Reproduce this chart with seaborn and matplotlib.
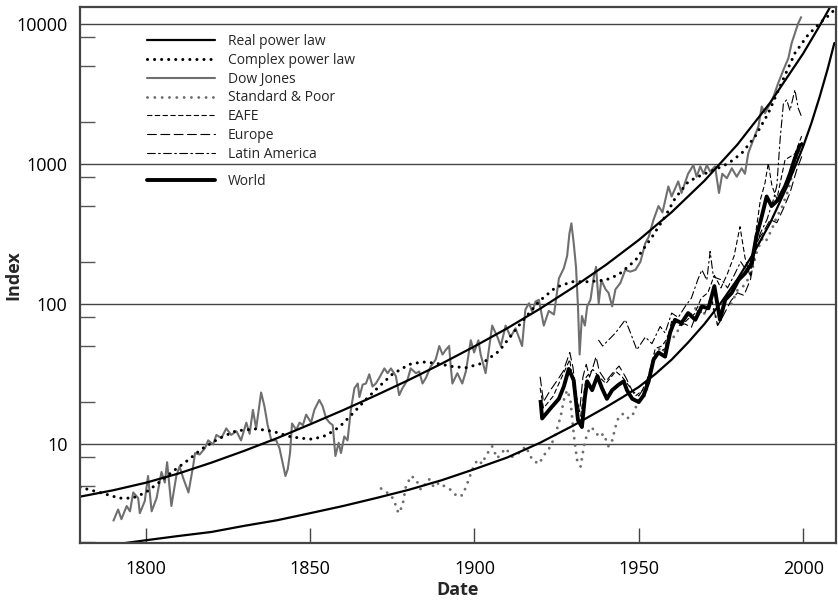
import numpy as np
import pandas as pd
import seaborn as sns
import matplotlib.pyplot as plt
from matplotlib.lines import Line2D
from matplotlib.ticker import FixedLocator, NullFormatter

# ---- data ----
real_upper_years = [1780, 1790, 1800, 1810, 1820, 1830, 1840, 1850, 1860, 1870, 1880, 1890,
                    1900, 1910, 1920, 1930, 1940, 1950, 1960, 1970, 1980, 1990, 2000, 2005, 2008.3]
real_upper_vals = [4.2, 4.66, 5.28, 6.15, 7.35, 8.93, 11.0, 13.8, 17.4, 22.2, 28.6, 37.4,
                   49.7, 67, 92.5, 131, 190, 286, 452, 759, 1374, 2742, 6138, 9680, 13300]

real_lower_years = [1793.8, 1800, 1810, 1820, 1830, 1840, 1850, 1860, 1870, 1880, 1890, 1900,
                    1910, 1920, 1930, 1940, 1945, 1950, 1955, 1960, 1965, 1970, 1975, 1980,
                    1985, 1990, 1995, 2000, 2002.5, 2005, 2007.5, 2009.5]
real_lower_vals = [1.96, 2.05, 2.2, 2.35, 2.6, 2.85, 3.2, 3.6, 4.1, 4.7, 5.5, 6.6,
                   8.0, 10.2, 13.5, 18.3, 21.5, 25.5, 31.5, 40, 53, 72, 102, 150,
                   232, 380, 680, 1330, 1950, 3000, 4800, 7300]

complex_years = [1780, 1786, 1792, 1796, 1800, 1804, 1808, 1813, 1817, 1822.5, 1827.5, 1833.6,
                 1838.7, 1843.7, 1847, 1850.8, 1854.9, 1858.9, 1863, 1867, 1871, 1875, 1880.2,
                 1884.2, 1888.3, 1893.3, 1897.4, 1902.4, 1907.5, 1913.5, 1919.6, 1924.7, 1929.7,
                 1934.8, 1939.9, 1943.9, 1949, 1954, 1958, 1961.1, 1965.1, 1969.2, 1973.2, 1977.3,
                 1981.3, 1985.4, 1989.4, 1993.4, 1997.5, 2001.5, 2005.6, 2008.6, 2009.5]
complex_vals = [4.9, 4.5, 4.1, 4.1, 4.5, 5.3, 6.3, 7.7, 9.2, 11.0, 12.4, 12.8,
                12.3, 11.3, 11.0, 10.8, 11.5, 13.2, 16.5, 20.8, 25.7, 31.4, 37,
                38.5, 37.7, 35.7, 35, 37.7, 46, 70, 104, 131, 144,
                144, 148, 162, 205, 300, 420, 570, 748, 835, 910, 1010,
                1190, 1570, 2300, 3770, 6180, 8350, 10400, 11900, 12700]

dow_years = [1790.1, 1791.6, 1792.6, 1794.2, 1795.2, 1796.2, 1797.7, 1798.2, 1799.7, 1800.7,
             1801.8, 1803.3, 1804.8, 1805.8, 1806.5, 1807.8, 1809.3, 1810.3, 1811.4, 1813.0,
             1814.4, 1815.0, 1816.4, 1818.0, 1819.0, 1820.5, 1821.5, 1823.0, 1824.5, 1826.0,
             1827.6, 1829.0, 1830.6, 1831.6, 1832.6, 1833.6, 1835.1, 1836.1, 1837.1, 1838.2,
             1839.7, 1840.7, 1841.7, 1842.5, 1843.2, 1843.9, 1844.5, 1845.8, 1846.8, 1847.8,
             1848.8, 1850.3, 1851.3, 1852.8, 1853.8, 1854.9, 1855.9, 1856.9, 1857.7, 1858.7,
             1859.4, 1860.4, 1861.4, 1862.4, 1863.5, 1864.5, 1865.0, 1866.0, 1867.0, 1868.0,
             1869.0, 1870.0, 1871.0, 1872.6, 1873.6, 1874.6, 1876.1, 1877.1, 1878.1, 1879.6,
             1880.6, 1882.2, 1883.2, 1884.2, 1885.2, 1886.7, 1888.2, 1889.3, 1890.3, 1891.3,
             1892.3, 1892.8, 1893.3, 1894.8, 1896.3, 1897.4, 1898.9, 1899.9, 1901.2, 1901.9,
             1903.4, 1905.4, 1907.0, 1908.0, 1909.5, 1911.0, 1912.5, 1913.5, 1914.5, 1915.5,
             1916.6, 1917.6, 1918.6, 1919.6, 1921.1, 1922.6, 1924.2, 1925.7, 1927.2, 1928.2,
             1928.9, 1929.5, 1930.2, 1930.9, 1931.5, 1932.0, 1932.7, 1933.6, 1934.3, 1935.3,
             1936.3, 1937.0, 1937.8, 1938.6, 1939.9, 1940.8, 1941.9, 1942.9, 1944.4, 1945.9,
             1947.4, 1949.0, 1950.5, 1952.0, 1953.0, 1954.5, 1956.0, 1957.2, 1959.0, 1960.0,
             1962.0, 1963.0, 1965.0, 1966.6, 1967.6, 1968.7, 1969.7, 1970.7, 1971.7, 1973.2,
             1974.4, 1975.4, 1976.8, 1978.3, 1979.8, 1981.3, 1982.3, 1983.3, 1984.9, 1986.4,
             1987.4, 1988.4, 1990.0, 1991.0, 1992.4, 1994.0, 1995.5, 1996.5, 1997.5, 1998.5, 1999.5]
dow_vals = [2.8, 3.4, 2.9, 3.6, 3.3, 4.5, 4.1, 3.2, 3.9, 5.9,
            3.3, 4.1, 6.3, 5.3, 7.4, 3.6, 5.9, 6.9, 5.7, 4.5,
            6.9, 8.6, 8.4, 9.3, 10.6, 9.9, 11.6, 11.0, 12.9, 11.6,
            12.3, 10.6, 14.2, 11.8, 17.5, 12.9, 23.3, 18.6, 13.6, 10.6,
            10.6, 9.3, 7.2, 5.9, 6.6, 8.6, 14.0, 12.6, 14.2, 13.6,
            16.2, 14.2, 17.5, 20.6, 18.6, 15.2, 14.2, 13.6, 8.2, 10.2,
            8.6, 11.3, 10.6, 17.5, 25, 27, 21.6, 26.5, 27, 31.4,
            25.7, 27, 29.5, 34.6, 32, 34.6, 30.5, 22.3, 25, 28.5,
            34.6, 32, 32.9, 27, 29.5, 35.7, 40, 50, 43.5, 47,
            50, 35.7, 27, 32, 27, 33, 55, 45, 55, 43.5,
            32, 70, 58, 50, 70, 58, 67, 58, 50, 91,
            101, 88, 104, 107, 70, 89, 84, 152, 180, 220,
            318, 376, 272, 184, 96, 43.5, 82, 70, 96, 107,
            155, 184, 101, 148, 127, 120, 96, 127, 141, 175,
            170, 175, 200, 272, 300, 400, 500, 450, 690, 585,
            750, 620, 850, 980, 810, 960, 850, 980, 880, 960,
            620, 850, 790, 930, 810, 930, 850, 1190, 1500, 1850,
            2570, 2300, 2710, 3030, 3770, 4690, 5680, 7280, 8580, 10100, 11300]

sp_years = [1871.6, 1874.6, 1875.6, 1876.9, 1878.1, 1879.1, 1880.7, 1882.2, 1883.7, 1886.2,
            1887.7, 1889.3, 1891.3, 1892.8, 1894.8, 1896.3, 1897.4, 1899.4, 1900.9, 1902.4,
            1903.4, 1905.4, 1906.9, 1909.5, 1911.5, 1913.5, 1915.6, 1917.6, 1919.6, 1921.6,
            1923.2, 1924.7, 1926.2, 1927.2, 1928.2, 1929.2, 1930.2, 1931.2, 1932.3, 1933.3,
            1934.3, 1935.3, 1936.8, 1937.8, 1939.3, 1940.8, 1941.9, 1942.9, 1943.9, 1945.4,
            1946.9, 1948.4, 1949.9, 1952.0, 1953.5, 1954.5, 1956.0, 1957.5, 1959.0, 1960.6,
            1962, 1964, 1966, 1968, 1970, 1972, 1974, 1976, 1978, 1980,
            1982, 1984, 1986, 1987.5, 1988.5, 1990.4, 1992, 1993.4, 1995.5, 1997, 1998.5, 2000]
sp_vals = [4.8, 4.3, 3.9, 3.2, 3.6, 4.9, 5.9, 5.6, 4.7, 5.6,
           4.9, 5.3, 4.9, 4.7, 4.2, 4.3, 4.9, 6.6, 7.7, 7.2,
           8.2, 9.6, 7.9, 9.3, 8.1, 8.6, 9.6, 7.7, 7.2, 8.6,
           9.6, 11.8, 15.6, 20.6, 24.2, 20.6, 11.8, 7.7, 6.9, 9.6,
           11.8, 13.2, 12.4, 11.2, 11.8, 9.6, 10.6, 13.2, 15.6, 16.5,
           15.2, 16.5, 20.6, 22.3, 30.5, 42, 48, 45, 60, 58,
           65, 80, 85, 98, 85, 110, 72, 100, 98, 125,
           135, 160, 240, 290, 275, 338, 420, 480, 650, 900, 1200, 1450]

eafe_years = [1920, 1921, 1924, 1926, 1929, 1931, 1932, 1934, 1936, 1938, 1940, 1943, 1945,
              1947, 1949, 1951, 1953, 1955, 1957, 1959, 1961, 1963, 1965, 1967, 1969, 1971,
              1973, 1975, 1977, 1979, 1980.8, 1982.3, 1983.9, 1985, 1986, 1987, 1988.4,
              1989.4, 1990.5, 1992, 1994.5, 1997.5, 1999.5]
eafe_vals = [25, 18, 22, 28, 40, 18, 14, 30, 34, 30, 27, 33, 30,
             26, 22, 24, 30, 48, 50, 58, 75, 70, 78, 85, 110, 120,
             160, 130, 165, 220, 356, 215, 156, 258, 377, 555, 730,
             1010, 700, 560, 1070, 1180, 1570]

europe_years = [1920, 1921, 1923, 1925, 1927, 1929, 1930, 1931, 1932, 1933, 1934, 1935, 1936,
                1937, 1938, 1940, 1942, 1944, 1946, 1948, 1950, 1952, 1954, 1956, 1958, 1960,
                1962, 1964, 1966, 1968, 1970, 1972, 1974, 1976, 1978, 1980, 1982, 1984, 1986,
                1988, 1990, 1992, 1994, 1996, 1998, 2000]
europe_vals = [30, 20, 24, 28, 33, 45, 35, 22, 17, 30, 37, 30, 35,
               42, 33, 28, 32, 36, 30, 24, 22, 26, 38, 45, 48, 75,
               70, 72, 68, 90, 85, 110, 70, 85, 105, 120, 115, 150, 280,
               330, 400, 380, 480, 620, 900, 1200]

latam_years = [1937.8, 1939, 1942.9, 1945.9, 1947.5, 1949.4, 1952, 1954, 1956.5, 1958, 1960,
               1962, 1964, 1966, 1968, 1969.2, 1970.7, 1971.7, 1972.7, 1975.3, 1977, 1979, 1981,
               1983, 1985, 1987, 1989, 1991, 1992, 1993, 1994, 1995, 1996, 1997.5, 1998.5, 1999.5]
latam_vals = [55, 50, 62, 77, 62, 47, 58, 52, 69, 62, 86,
              80, 95, 110, 150, 175, 148, 237, 156, 148, 130, 160, 200,
              170, 230, 320, 400, 560, 700, 1500, 2700, 2870, 2400, 3380, 2500, 2180]

world_years = [1920.1, 1920.6, 1923.2, 1925.7, 1927.2, 1928.7, 1930.2, 1931.5, 1932.7, 1933.6,
               1934.3, 1935.8, 1937.4, 1938.8, 1940.3, 1941.9, 1943.9, 1945.4, 1946.4, 1948.0,
               1950.0, 1951.5, 1953.0, 1954.5, 1956.0, 1958.0, 1959.5, 1961.0, 1963.0, 1965.0,
               1967.2, 1969.2, 1971.2, 1973.0, 1974.7, 1976.3, 1978.3, 1980.3, 1982.3, 1984.3,
               1985.8, 1987.4, 1988.9, 1990.4, 1992.4, 1994.5, 1996.0, 1997.5, 1999.0, 2000.0]
world_vals = [20.6, 15.2, 18, 21, 25.7, 34.3, 28.5, 14.8, 13.2, 21.6,
              28, 24.2, 30.5, 25, 21, 24.2, 26.5, 28, 24.2, 21,
              19.9, 22.3, 28, 40, 45, 42, 62, 77, 73, 86,
              77, 96, 93, 134, 77, 107, 120, 148, 165, 194,
              304, 420, 585, 500, 555, 690, 850, 1100, 1350, 1400]

sns.set_theme(style="white")
plt.rcParams['font.family'] = ['Open Sans', 'DejaVu Sans']

fig = plt.figure(figsize=(8.38, 6.03), dpi=100)
ax = fig.add_axes([80 / 838, 60 / 603, 756 / 838, 536 / 603])

# style per series: (years, values, color, linewidth, linestyle)
series = {
    'Real power law': (real_upper_years, real_upper_vals, 'black', 1.6, '-'),
    'Complex power law': (complex_years, complex_vals, 'black', 2.2, (0, (0.01, 2.3))),
    'Dow Jones': (dow_years, dow_vals, '#6f6f6f', 1.5, '-'),
    'Standard & Poor': (sp_years, sp_vals, '#6e6e6e', 2.1, (0, (0.01, 2.5))),
    'EAFE': (eafe_years, eafe_vals, 'black', 0.8, (0, (4, 3))),
    'Europe': (europe_years, europe_vals, 'black', 0.8, (0, (8, 4))),
    'Latin America': (latam_years, latam_vals, 'black', 0.8, (0, (7, 3, 1.5, 3))),
    'World': (world_years, world_vals, 'black', 2.8, '-'),
}

draw_order = ['Standard & Poor', 'Dow Jones', 'EAFE', 'Europe', 'Latin America',
              'World', 'Complex power law', 'Real power law']
for name in draw_order:
    xs, ys, col, lw, ls = series[name]
    sns.lineplot(x=xs, y=ys, ax=ax, color=col, lw=lw, linestyle=ls,
                 dash_capstyle='round', solid_capstyle='butt', sort=False)

# second branch of the real power law
sns.lineplot(x=real_lower_years, y=real_lower_vals, ax=ax, color='black', lw=1.6, sort=False)

ax.set_yscale('log')
ax.set_xlim(1780, 2010)
ax.set_ylim(1.96, 13200)

ax.set_yticks([10, 100, 1000, 10000])
ax.set_yticklabels(['10', '100', '1000', '10000'])
ax.yaxis.set_minor_locator(FixedLocator([2, 5, 8, 20, 50, 80, 200, 500, 800, 2000, 5000, 8000]))
ax.yaxis.set_minor_formatter(NullFormatter())
ax.set_xticks([1800, 1850, 1900, 1950, 2000])

ax.tick_params(axis='y', which='major', direction='in', length=11, width=1, colors='#444444',
               labelcolor='black', labelsize=13, pad=9)
ax.tick_params(axis='y', which='minor', direction='in', length=11, width=1, color='#555555', left=True)
ax.tick_params(axis='x', which='major', direction='in', length=11, width=1, colors='#444444',
               labelcolor='black', labelsize=13, pad=12, bottom=True)

ax.grid(False)
for yv in [10, 100, 1000, 10000]:
    ax.axhline(yv, color='#444444', lw=1.0, zorder=0.5)

for spine in ax.spines.values():
    spine.set_color('#444444')
    spine.set_linewidth(1.6)

ax.set_xlabel('Date', fontsize=13, fontweight='bold')
ax.set_ylabel('Index', fontsize=13, fontweight='bold')
ax.xaxis.set_label_coords(0.5, -0.071)
ax.yaxis.set_label_coords(-0.076, 0.5)

# legend handles
def handle(name):
    xs, ys, col, lw, ls = series[name]
    return Line2D([], [], color=col, lw=lw, linestyle=ls, dash_capstyle='round')

names1 = ['Real power law', 'Complex power law', 'Dow Jones', 'Standard & Poor',
          'EAFE', 'Europe', 'Latin America']
leg1 = ax.legend([handle(n) for n in names1], names1, loc='upper left',
                 bbox_to_anchor=(0.0886, 0.950), frameon=False, fontsize=10,
                 handlelength=4.9, handletextpad=0.9, labelspacing=0.28,
                 borderpad=0, borderaxespad=0)
ax.add_artist(leg1)
ax.legend([handle('World')], ['World'], loc='upper left',
          bbox_to_anchor=(0.0886, 0.688), frameon=False, fontsize=10,
          handlelength=4.9, handletextpad=0.9, borderpad=0, borderaxespad=0)

fig.savefig('out.png', dpi=100, facecolor='white')
